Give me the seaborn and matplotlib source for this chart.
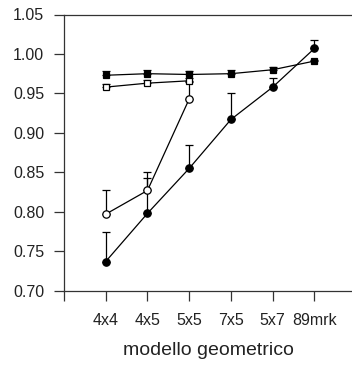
import matplotlib
matplotlib.use("Agg")
import matplotlib.pyplot as plt
import seaborn as sns
import numpy as np
import pandas as pd

models = ["4x4", "4x5", "5x5", "7x5", "5x7", "89mrk"]

filled_sq = [0.973, 0.975, 0.974, 0.975, 0.980, 0.991]
filled_sq_err = [0.005, 0.005, 0.005, 0.005, 0.004, 0.001]

open_sq = [0.958, 0.963, 0.966]
open_sq_err = [0.004, 0.004, 0.004]

open_circ = [0.797, 0.827, 0.943]
open_circ_err = [0.031, 0.023, 0.022]

filled_circ = [0.737, 0.798, 0.855, 0.917, 0.958, 1.007]
filled_circ_err = [0.037, 0.045, 0.029, 0.034, 0.012, 0.011]

sns.set_style("ticks")
plt.rcParams["font.family"] = ["Liberation Sans", "DejaVu Sans"]

fig = plt.figure(figsize=(3.52, 3.65), dpi=100)
ax = fig.add_axes([64 / 352, 1 - 290.7 / 365, 1 - 64 / 352, (290.7 - 14.5) / 365])

series = [
    ("filled_sq", filled_sq, filled_sq_err, "s", "black", 4.6),
    ("open_sq", open_sq, open_sq_err, "s", "white", 4.2),
    ("open_circ", open_circ, open_circ_err, "o", "white", 5.3),
    ("filled_circ", filled_circ, filled_circ_err, "o", "black", 5.3),
]

for name, vals, errs, mk, fc, ms in series:
    x = np.arange(1, len(vals) + 1)
    df = pd.DataFrame({"x": x, "y": vals})
    ax.errorbar(x, vals, yerr=[np.zeros(len(errs)), errs], fmt="none",
                ecolor="black", elinewidth=0.9, capsize=3.2, capthick=0.9, zorder=2)
    sns.lineplot(data=df, x="x", y="y", ax=ax, color="black", linewidth=0.9,
                 marker=mk, markersize=ms, markerfacecolor=fc,
                 markeredgecolor="black", markeredgewidth=0.9, zorder=3)

ax.set_xlim(0, 6.9)
ax.set_ylim(0.70, 1.05)
ax.set_xticks(range(0, 7))
ax.set_xticklabels([""] + models)
ax.set_yticks(np.arange(0.70, 1.051, 0.05))
ax.set_yticklabels([f"{v:.2f}" for v in np.arange(0.70, 1.051, 0.05)])

ax.tick_params(axis="both", direction="out", length=7.2, width=0.9,
               color="#333333", labelsize=11.5, labelcolor="#222222")
ax.tick_params(axis="y", pad=7)
ax.tick_params(axis="x", pad=9)

for side in ["left", "bottom", "top"]:
    ax.spines[side].set_visible(True)
    ax.spines[side].set_color("#333333")
    ax.spines[side].set_linewidth(0.9)
ax.spines["right"].set_visible(False)

ax.set_xlabel("modello geometrico", fontsize=14, color="#222222", labelpad=10)
ax.set_ylabel("")

fig.savefig("out.png", dpi=100)
